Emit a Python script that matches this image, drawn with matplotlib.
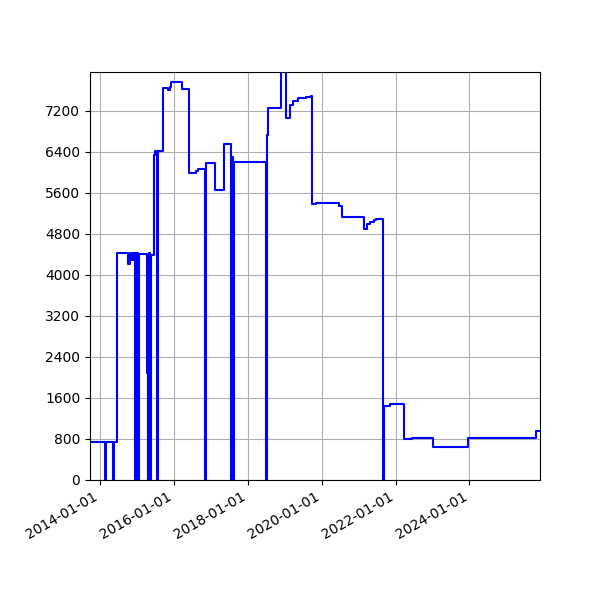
import matplotlib
matplotlib.use("Agg")
import matplotlib.pyplot as plt
import matplotlib.dates as mdates
import pandas as pd
import numpy as np

dates = [
    "2013-09-24", "2014-02-16", "2014-02-26", "2014-05-07", "2014-05-21",
    "2014-06-20", "2014-10-05", "2014-10-20", "2014-11-07", "2014-11-20",
    "2014-12-15", "2014-12-25", "2015-01-09", "2015-01-19",
    "2015-04-11", "2015-04-18", "2015-04-27", "2015-05-07", "2015-05-17", "2015-05-27",
    "2015-06-21", "2015-07-01", "2015-07-20", "2015-07-30",
    "2015-09-13", "2015-11-04", "2015-11-21", "2015-12-08",
    "2016-03-22", "2016-05-30", "2016-08-04", "2016-08-24",
    "2016-11-08", "2016-11-16", "2017-02-13", "2017-05-08",
    "2017-07-23", "2017-07-31", "2017-08-10", "2017-08-18",
    "2018-06-27", "2018-07-07", "2018-07-20", "2018-11-22",
    "2019-01-18", "2019-02-19", "2019-03-24", "2019-05-12", "2019-08-03", "2019-09-22",
    "2019-10-02", "2019-11-03", "2020-06-21", "2020-07-24", "2020-09-02",
    "2021-02-23", "2021-03-28", "2021-04-25", "2021-05-30", "2021-06-25",
    "2021-08-31", "2021-09-10", "2021-11-04",
    "2022-03-25", "2022-06-09", "2023-01-06", "2023-12-18",
    "2025-10-17", "2025-11-29",
]
values = [
    740, 0, 740, 0, 740,
    4420, 4220, 4420, 4300, 4420,
    0, 4420, 0, 4400,
    2080, 0, 4420, 0, 4380, 4380,
    6350, 6410, 0, 6410,
    7640, 7610, 7660, 7760,
    7630, 5985, 6030, 6070,
    0, 6180, 5660, 6550,
    0, 6300, 0, 6210,
    0, 6730, 7264, 8300,
    7060, 7310, 7395, 7450, 7480, 7495,
    5385, 5400, 5340, 5125, 5140,
    4890, 4990, 5040, 5080, 5100,
    0, 1444, 1483,
    800, 815, 640, 825,
    962, 962,
]
yticks = list(range(0, 7201, 800))

x = pd.to_datetime(dates)
fig, ax = plt.subplots(figsize=(6, 6), dpi=100)
fig.subplots_adjust(left=0.15, right=0.9, top=0.88, bottom=0.2)
ax.plot(x, values, drawstyle="steps-post", color="blue", linewidth=1.5)
ax.set_xlim(x[0], x[-1])
ax.set_ylim(0, 7960)
ax.set_yticks(yticks)
ax.xaxis.set_major_locator(mdates.YearLocator(2, month=1, day=1))
ax.xaxis.set_major_formatter(mdates.DateFormatter("%Y-%m-%d"))
ax.grid(True)
for lbl in ax.get_xticklabels():
    lbl.set_rotation(30)
    lbl.set_ha("right")
fig.savefig("out.png")
